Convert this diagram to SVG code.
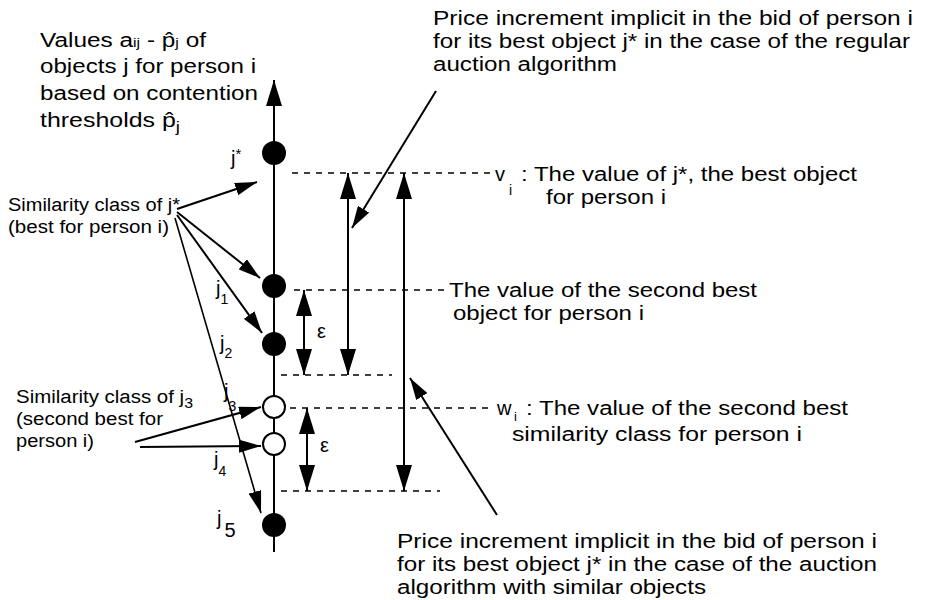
<svg xmlns="http://www.w3.org/2000/svg" width="925" height="600" viewBox="0 0 925 600">
<style>
text{font-family:"Liberation Sans",Arial,sans-serif;fill:#000}
.m{font-size:20px}
.s{font-size:18px}
.sub{font-size:14px}
.ln{stroke:#000;stroke-width:2;fill:none}
.thin{stroke:#000;stroke-width:1.6;fill:none}
.dash{stroke:#000;stroke-width:1.6;stroke-dasharray:6 6;fill:none}
.big{marker-start:url(#ah);marker-end:url(#ah)}
.ptr{marker-end:url(#sh)}
</style>
<defs>
<marker id="ah" markerUnits="userSpaceOnUse" markerWidth="26" markerHeight="16" viewBox="0 0 26 16" refX="26" refY="8" orient="auto-start-reverse"><path d="M0,0 L26,8 L0,16 z" fill="#000"/></marker>
<marker id="sh" markerUnits="userSpaceOnUse" markerWidth="22" markerHeight="13" viewBox="0 0 22 13" refX="22" refY="6.5" orient="auto"><path d="M0,0 L22,6.5 L0,13 z" fill="#000"/></marker>
</defs>

<g id="connectors">
<line class="ln" x1="274" y1="552" x2="274" y2="80" marker-end="url(#ah)"/>
<line class="dash" x1="292" y1="173" x2="490" y2="173"/>
<line class="dash" x1="294" y1="290" x2="446" y2="290"/>
<line class="dash" x1="281" y1="375" x2="392" y2="375"/>
<line class="dash" x1="290" y1="408" x2="494" y2="408"/>
<line class="dash" x1="281" y1="491" x2="440" y2="491"/>
<line class="ln big" x1="304" y1="290" x2="304" y2="375"/>
<line class="ln big" x1="307" y1="408" x2="307" y2="491"/>
<line class="ln big" x1="348" y1="173" x2="348" y2="375"/>
<line class="ln big" x1="404" y1="173" x2="404" y2="491"/>
<line class="ln ptr" x1="436" y1="91" x2="352" y2="228"/>
<line class="ln ptr" x1="497" y1="515" x2="410" y2="378"/>
<line class="ln ptr" x1="177" y1="209" x2="257" y2="182"/>
<line class="ln ptr" x1="177" y1="212" x2="260" y2="278"/>
<line class="ln ptr" x1="177" y1="215" x2="262" y2="333"/>
<line class="thin ptr" x1="175" y1="218" x2="261" y2="513"/>
<line class="ln ptr" x1="135" y1="442" x2="261" y2="407"/>
<line class="ln ptr" x1="140" y1="447" x2="261" y2="446"/>
</g>

<g id="node-jstar"><circle cx="274" cy="153" r="12" fill="#000"/><text class="m" x="231" y="165">j<tspan dy="-6" font-size="15">*</tspan></text></g>
<g id="node-j1"><circle cx="274" cy="286" r="12" fill="#000"/><text class="m" x="216" y="295">j<tspan class="sub" dy="9">1</tspan></text></g>
<g id="node-j2"><circle cx="274" cy="344" r="12" fill="#000"/><text class="m" x="220" y="350">j<tspan class="sub" dy="8">2</tspan></text></g>
<g id="node-j3"><circle cx="274" cy="407" r="11" fill="#fff" stroke="#000" stroke-width="2"/><text class="m" x="224" y="398">j<tspan class="sub" dy="13">3</tspan></text></g>
<g id="node-j4"><circle cx="274" cy="444" r="11" fill="#fff" stroke="#000" stroke-width="2"/><text class="m" x="214" y="466">j<tspan class="sub" dy="10">4</tspan></text></g>
<g id="node-j5"><circle cx="274" cy="525" r="12" fill="#000"/><text class="m" x="217" y="525">j<tspan class="m" dx="3" dy="12">5</tspan></text></g>

<g id="label-values">
<text class="m" x="40" y="47" textLength="166" lengthAdjust="spacingAndGlyphs">Values a<tspan font-size="13">ij</tspan> - p̂<tspan font-size="13">j</tspan> of</text>
<text class="m" x="40" y="73" textLength="216" lengthAdjust="spacingAndGlyphs">objects j for person i</text>
<text class="m" x="40" y="100" textLength="218" lengthAdjust="spacingAndGlyphs">based on contention</text>
<text class="m" x="40" y="127" textLength="140" lengthAdjust="spacingAndGlyphs">thresholds p̂<tspan font-size="15" dy="5">j</tspan></text>
</g>

<g id="label-regular">
<text class="m" x="433" y="25" textLength="480" lengthAdjust="spacingAndGlyphs">Price increment implicit in  the bid of person i</text>
<text class="m" x="433" y="48" textLength="477" lengthAdjust="spacingAndGlyphs">for its best object j* in the case of the regular</text>
<text class="m" x="433" y="71" textLength="184" lengthAdjust="spacingAndGlyphs">auction algorithm</text>
</g>

<g id="label-vi">
<text class="m" x="495" y="181">v</text><text class="sub" x="509" y="195">i</text>
<text class="m" x="521" y="181" textLength="336" lengthAdjust="spacingAndGlyphs">: The value of j*, the best object</text>
<text class="m" x="546" y="204" textLength="120" lengthAdjust="spacingAndGlyphs">for person i</text>
</g>

<g id="label-second">
<text class="m" x="449" y="297" textLength="308" lengthAdjust="spacingAndGlyphs">The value of the second best</text>
<text class="m" x="453" y="320" textLength="191" lengthAdjust="spacingAndGlyphs">object for person i</text>
</g>

<g id="label-wi">
<text class="m" x="497" y="415">w</text><text font-size="13" x="514" y="421">i</text>
<text class="m" x="526" y="415" textLength="322" lengthAdjust="spacingAndGlyphs">: The value of the second best</text>
<text class="m" x="512" y="441" textLength="290" lengthAdjust="spacingAndGlyphs">similarity class for person i</text>
</g>

<g id="label-similar">
<text class="m" x="397" y="548" textLength="480" lengthAdjust="spacingAndGlyphs">Price increment implicit in  the bid of person i</text>
<text class="m" x="397" y="571" textLength="480" lengthAdjust="spacingAndGlyphs">for its best object j* in the case of the auction</text>
<text class="m" x="397" y="594" textLength="309" lengthAdjust="spacingAndGlyphs">algorithm with similar objects</text>
</g>

<g id="label-class-best">
<text class="s" x="8" y="211" textLength="172" lengthAdjust="spacingAndGlyphs">Similarity class of j*</text>
<text class="s" x="8" y="233" textLength="161" lengthAdjust="spacingAndGlyphs">(best for person i)</text>
</g>

<g id="label-class-second">
<text class="s" x="16" y="403" textLength="177" lengthAdjust="spacingAndGlyphs">Similarity class of j<tspan font-size="14" dy="5">3</tspan></text>
<text class="s" x="16" y="425" textLength="147" lengthAdjust="spacingAndGlyphs">(second best for</text>
<text class="s" x="16" y="447" textLength="78" lengthAdjust="spacingAndGlyphs">person i)</text>
</g>

<g id="eps">
<text class="m" x="317" y="338">ε</text>
<text class="m" x="320" y="452">ε</text>
</g>
</svg>
